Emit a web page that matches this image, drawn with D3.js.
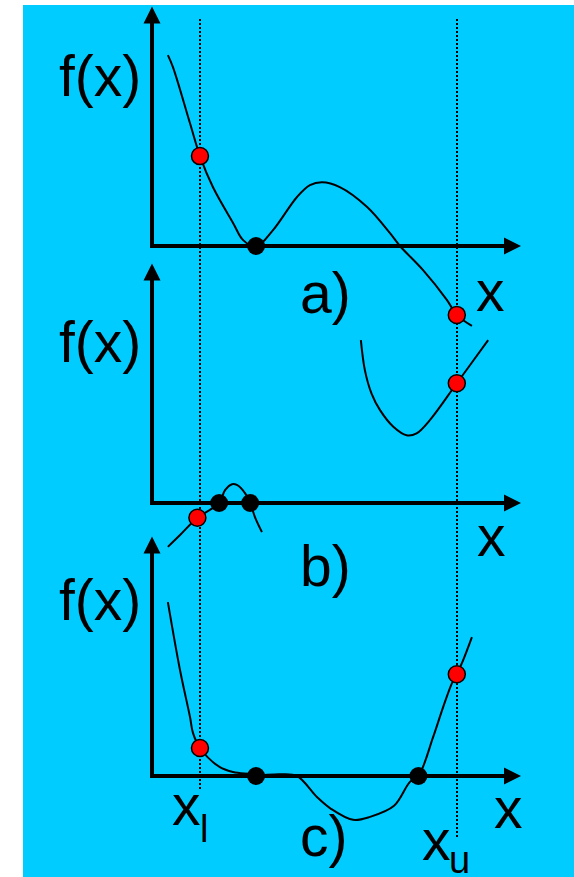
<!DOCTYPE html>
<html><head><meta charset="utf-8">
<script src="https://cdn.jsdelivr.net/npm/d3@7"></script>
<style>html,body{margin:0;padding:0;background:#fff;}svg{display:block;}</style>
</head><body>
<script>
// ---- data (abstract units) ----
const xLower = 1.3, xUpper = 8.26;
const panelLabels = ["a)", "b)", "c)"];
const curveA = [[0.43,5.18],[0.57,4.85],[1.03,3.33],[1.3,2.44],[1.65,1.60],[2.2,0.62],[2.47,0.16],[2.82,-0.02],[3.28,0.43],[3.93,1.33],[4.28,1.65],[4.61,1.73],[5.09,1.60],[5.83,1.06],[6.45,0.35],[6.72,0],[7.34,-0.65],[7.99,-1.46],[8.26,-1.87],[8.67,-2.17]];
const redA = [[1.3,2.44],[8.26,-1.87]];
const blackA = [[2.82,0]];
const curveB1 = [[0.43,-1.19],[0.76,-0.87],[1.23,-0.40],[1.82,0],[1.98,0.35],[2.17,0.51],[2.3,0.49],[2.52,0.27],[2.66,0],[2.79,-0.38],[2.98,-0.79]];
const curveB2 = [[5.66,4.42],[5.77,3.60],[5.95,2.97],[6.18,2.52],[6.54,2.07],[6.9,1.84],[7.17,1.89],[7.53,2.25],[8.26,3.25],[9.11,4.42]];
const redB = [[1.23,-0.40],[8.26,3.25]];
const blackB = [[1.82,0],[2.66,0]];
const curveC = [[0.43,4.72],[0.76,2.87],[1.03,1.60],[1.11,1.17],[1.3,0.76],[1.84,0.24],[2.2,0.11],[2.66,0.05],[2.82,0.02],[3.47,0.05],[3.93,0],[4.47,-0.57],[4.85,-0.89],[5.45,-1.19],[5.91,-1.11],[6.56,-0.81],[6.99,-0.16],[7.22,0],[7.62,1.06],[7.89,1.87],[8.13,2.52],[8.26,2.76],[8.43,3.14],[8.67,3.77]];
const redC = [[1.3,0.76],[8.26,2.76]];
const blackC = [[2.82,0],[7.22,0]];

const panels = [
  {base:246, curves:[curveA], red:redA, black:blackA, label:panelLabels[0], fx:[59,96], lab:[300,313], xl:[476,311]},
  {base:503, curves:[curveB1,curveB2], red:redB, black:blackB, label:panelLabels[1], fx:[59,362], lab:[300,586], xl:[477,556]},
  {base:776, curves:[curveC], red:redC, black:blackC, label:panelLabels[2], fx:[59,620], lab:[300,856], xl:[494,828]}
];

const W = 574, H = 877;
const svg = d3.select("body").append("svg").attr("width", W).attr("height", H);
svg.append("rect").attr("x",23).attr("y",5).attr("width",W-23).attr("height",H-5).attr("fill","#00CCFF");

const x = d3.scaleLinear().domain([0,10]).range([152,521]);
const font = "'Liberation Sans', Arial, sans-serif";

// dotted bound lines
const topY = 19;
[[xLower,790],[xUpper,838]].forEach(([v,yEnd]) => {
  const px = Math.round(x(v));
  svg.append("line").attr("x1",px).attr("x2",px).attr("y1",topY).attr("y2",yEnd)
    .attr("stroke","#000").attr("stroke-width",2).attr("stroke-dasharray","2,2");
});

panels.forEach(p => {
  const y = d3.scaleLinear().domain([0,6.5]).range([p.base, p.base-239.5]);
  const g = svg.append("g");
  const x0 = x(0), y0 = y(0), xEnd = x(10), yTop = y(6.5);
  // axes
  g.append("line").attr("x1",x0).attr("x2",x0).attr("y1",y0+2).attr("y2",yTop+10)
    .attr("stroke","#000").attr("stroke-width",4);
  g.append("line").attr("x1",x0-2).attr("x2",xEnd-10).attr("y1",y0).attr("y2",y0)
    .attr("stroke","#000").attr("stroke-width",4);
  g.append("path").attr("d",`M${x0},${yTop}L${x0-8.5},${yTop+17}L${x0+8.5},${yTop+17}Z`).attr("fill","#000");
  g.append("path").attr("d",`M${xEnd},${y0}L${xEnd-17},${y0-8.5}L${xEnd-17},${y0+8.5}Z`).attr("fill","#000");
  // curves
  const line = d3.line().x(d=>x(d[0])).y(d=>y(d[1])).curve(d3.curveCatmullRom.alpha(0.5));
  p.curves.forEach(c => g.append("path").attr("d",line(c)).attr("fill","none").attr("stroke","#000").attr("stroke-width",2));
  // points
  g.selectAll(null).data(p.black).enter().append("circle")
    .attr("cx",d=>x(d[0])).attr("cy",d=>y(d[1])).attr("r",9).attr("fill","#000");
  g.selectAll(null).data(p.red).enter().append("circle")
    .attr("cx",d=>x(d[0])).attr("cy",d=>y(d[1])).attr("r",8.5).attr("fill","#FF0000").attr("stroke","#000").attr("stroke-width",1.5);
  // texts
  g.append("text").attr("x",p.fx[0]).attr("y",p.fx[1]).attr("font-family",font).attr("font-size",57).text("f(x)");
  g.append("text").attr("x",p.lab[0]).attr("y",p.lab[1]).attr("font-family",font).attr("font-size",57).text(p.label);
  g.append("text").attr("x",p.xl[0]).attr("y",p.xl[1]).attr("font-family",font).attr("font-size",57).text("x");
});

// bound labels
svg.append("text").attr("x",172).attr("y",825).attr("font-family",font).attr("font-size",57).text("x");
svg.append("text").attr("x",200).attr("y",842).attr("font-family",font).attr("font-size",38).text("l");
svg.append("text").attr("x",422).attr("y",860).attr("font-family",font).attr("font-size",57).text("x");
svg.append("text").attr("x",449).attr("y",873).attr("font-family",font).attr("font-size",38).text("u");
</script>
</body></html>
